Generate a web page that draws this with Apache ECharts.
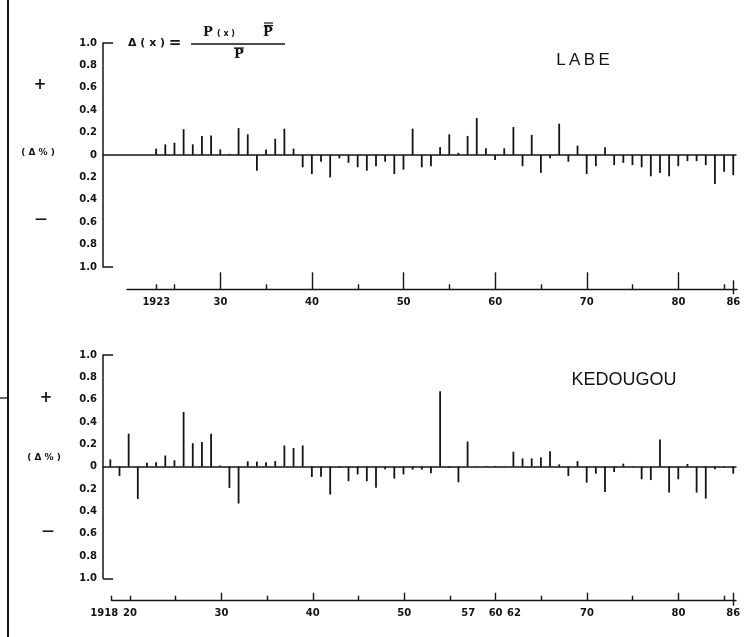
<!DOCTYPE html>
<html><head><meta charset="utf-8">
<script src="https://cdn.jsdelivr.net/npm/echarts@6/dist/echarts.min.js"></script>
<style>html,body{margin:0;padding:0;background:#fff}#c{width:746px;height:637px}</style>
</head><body><div id="c"></div>
<script>
// ---- LABE (top panel) ----
const labeYears = [1923,1924,1925,1926,1927,1928,1929,1930,1931,1932,1933,1934,1935,1936,1937,1938,1939,
  1940,1941,1942,1943,1944,1945,1946,1947,1948,1949,1950,1951,1952,1953,1954,1955,1956,1957,1958,1959,
  1960,1961,1962,1963,1964,1965,1966,1967,1968,1969,1970,1971,1972,1973,1974,1975,1976,1977,1978,1979,
  1980,1981,1982,1983,1984,1985,1986];
const labeValues = [0.057,0.095,0.11,0.23,0.095,0.17,0.175,0.05,0.01,0.24,0.185,-0.14,0.05,0.145,0.235,0.057,-0.11,
  -0.17,-0.06,-0.20,-0.03,-0.07,-0.11,-0.14,-0.10,-0.06,-0.17,-0.13,0.235,-0.11,-0.10,0.07,0.185,0.02,0.17,0.33,0.06,
  -0.045,0.06,0.25,-0.10,0.18,-0.16,-0.03,0.28,-0.06,0.083,-0.17,-0.10,0.07,-0.09,-0.07,-0.09,-0.11,-0.19,-0.16,-0.19,
  -0.10,-0.055,-0.055,-0.09,-0.26,-0.15,-0.18];
const labeLongTicks = [1930,1940,1950,1960,1970,1980];
const labeShortTicks = [1923,1925,1935,1945,1955,1965,1975,1985];
const labeCrossTicks = [1986];
const labeTickLabels = [1923,1930,1940,1950,1960,1970,1980,1986];

// ---- KEDOUGOU (bottom panel) ----
const kedYears = [1918,1919,1920,1921,1922,1923,1924,1925,1926,1927,1928,1929,1930,1931,1932,1933,1934,1935,1936,
  1937,1938,1939,1940,1941,1942,1943,1944,1945,1946,1947,1948,1949,1950,1951,1952,1953,1954,1955,1956,1957,1958,
  1959,1960,1961,1962,1963,1964,1965,1966,1967,1968,1969,1970,1971,1972,1973,1974,1975,1976,1977,1978,1979,1980,
  1981,1982,1983,1984,1985,1986];
const kedValues = [0.065,-0.083,0.295,-0.29,0.036,0.04,0.10,0.057,0.49,0.21,0.22,0.295,0.01,-0.19,-0.33,0.048,0.045,0.04,0.05,
  0.19,0.167,0.19,-0.092,-0.09,-0.25,-0.01,-0.13,-0.07,-0.13,-0.19,-0.025,-0.107,-0.07,-0.027,-0.027,-0.06,0.675,-0.01,-0.14,0.225,0.005,
  0.005,0.005,0.005,0.134,0.074,0.074,0.083,0.137,0.02,-0.083,0.05,-0.143,-0.063,-0.226,-0.048,0.027,0.005,-0.113,-0.12,0.244,-0.232,-0.113,
  0.024,-0.232,-0.286,-0.024,-0.01,-0.063];
const kedLongTicks = [1930,1940,1950,1960,1970,1980];
const kedShortTicks = [1918,1920,1925,1935,1945,1955,1965,1975,1985];
const kedCrossTicks = [1986];
const kedTickLabels = [1918,1920,1930,1940,1950,1957,1960,1962,1970,1980,1986];

const INK = '#141414';
const labelFont = {fontFamily:'DejaVu Sans', fontWeight:'bold', fontSize:10, color:INK};
const yLabelFmt = v => Math.abs(v) < 1e-9 ? '0' : Math.abs(v).toFixed(1);
const xLabelFmt = v => v === 1918 ? '{first|1918}' : (v === 1923 ? '1923' : String(v).slice(2));

function barXAxis(grid){
  return {gridIndex:grid, type:'value', min:1917.2, max:1986.3,
    axisLine:{show:true, onZero:true, lineStyle:{color:INK, width:1.5}},
    axisTick:{show:false}, axisLabel:{show:false}, splitLine:{show:false}};
}
function yearAxes(grid, min, max, longT, longLen, shortT, crossT, crossUp, labels){
  const base = {gridIndex:grid, type:'value', min:min, max:max, position:'bottom', splitLine:{show:false}};
  return [
    Object.assign({}, base, {axisLine:{show:true, onZero:false, lineStyle:{color:INK, width:1.4}},
      axisTick:{show:true, customValues:longT, inside:true, length:longLen, lineStyle:{color:INK, width:1.4}},
      axisLabel:Object.assign({show:true, customValues:labels, formatter:xLabelFmt, margin:8,
        hideOverlap:false, showMinLabel:true, showMaxLabel:true,
        rich:{first:{fontFamily:'DejaVu Sans', fontWeight:'bold', fontSize:10, color:INK, padding:[0,15,0,0]}}}, labelFont)}),
    Object.assign({}, base, {axisLine:{show:false, onZero:false},
      axisTick:{show:true, customValues:shortT, inside:true, length:5, lineStyle:{color:INK, width:1.4}},
      axisLabel:{show:false}}),
    Object.assign({}, base, {axisLine:{show:false, onZero:false},
      axisTick:{show:true, customValues:crossT, inside:true, length:crossUp, lineStyle:{color:INK, width:1.4}},
      axisLabel:{show:false}}),
    Object.assign({}, base, {axisLine:{show:false, onZero:false},
      axisTick:{show:true, customValues:crossT, inside:false, length:5, lineStyle:{color:INK, width:1.4}},
      axisLabel:{show:false}})
  ];
}
function valueYAxis(grid){
  return {gridIndex:grid, type:'value', min:-1, max:1, interval:0.2,
    axisLine:{show:true, lineStyle:{color:INK, width:1.5}},
    axisTick:{show:true, customValues:[-1,1], inside:true, length:10, lineStyle:{color:INK, width:1.5}},
    axisLabel:Object.assign({formatter:yLabelFmt, margin:6}, labelFont),
    splitLine:{show:false}};
}
const hiddenY = g => ({gridIndex:g, type:'value', show:false, min:0, max:1});

const xAxes = [barXAxis(0)]
  .concat(yearAxes(1, 1919.8, 1986.4, labeLongTicks, 17, labeShortTicks, labeCrossTicks, 9, labeTickLabels))
  .concat([barXAxis(2)])
  .concat(yearAxes(3, 1918, 1986.3, kedLongTicks, 8, kedShortTicks, kedCrossTicks, 8, kedTickLabels));

const txt = (x, y, text, font, align) => ({type:'text', x:x, y:y, silent:true,
  style:{text:text, font:font, fill:INK, textAlign:align || 'center', textVerticalAlign:'middle'}});
const ln = (x1, y1, x2, y2, w) => ({type:'line', silent:true, shape:{x1:x1, y1:y1, x2:x2, y2:y2},
  style:{stroke:INK, lineWidth:w || 1.3}});

const chart = echarts.init(document.getElementById('c'), null, {renderer:'canvas'});
chart.setOption({
  animation:false,
  backgroundColor:'#fff',
  grid:[
    {left:103, right:10, top:43, height:224},
    {left:127, right:9, top:250, height:39.3},
    {left:103, right:10, top:355, height:223.3},
    {left:111.7, right:10, top:560, height:40.7}
  ],
  xAxis: xAxes,
  yAxis:[valueYAxis(0), hiddenY(1), valueYAxis(2), hiddenY(3)],
  series:[
    {type:'bar', xAxisIndex:0, yAxisIndex:0, barWidth:1.8, itemStyle:{color:INK},
      data: labeYears.map((y, i) => [y, labeValues[i]])},
    {type:'bar', xAxisIndex:5, yAxisIndex:2, barWidth:1.8, itemStyle:{color:INK},
      data: kedYears.map((y, i) => [y, kedValues[i]])}
  ],
  graphic:[
    ln(8, 0, 8, 637, 2),
    ln(0, 398, 8, 398, 1.3),
    // side annotations, top
    txt(40, 85, '+', 'bold 15px "DejaVu Sans"'),
    txt(38, 153, '( Δ % )', 'bold 9px "DejaVu Sans"'),
    txt(41, 220, '—', 'bold 12px "DejaVu Sans"'),
    // side annotations, bottom
    txt(46, 398, '+', 'bold 15px "DejaVu Sans"'),
    txt(44, 458, '( Δ % )', 'bold 9px "DejaVu Sans"'),
    txt(48, 532, '—', 'bold 12px "DejaVu Sans"'),
    // formula
    txt(128, 43, 'Δ ( x )', 'bold 11px "DejaVu Sans"', 'left'),
    txt(175, 43, '=', 'bold 15px "DejaVu Sans"'),
    ln(191, 44, 285, 44, 1.3),
    txt(208, 33, 'P', 'bold 13px "DejaVu Serif"'),
    txt(226, 34, '( x )', 'bold 8px "DejaVu Sans"'),
    txt(268, 33, 'P', 'bold 13px "DejaVu Serif"'),
    ln(264, 23, 273, 23, 1.2), ln(264, 25.5, 273, 25.5, 1.2),
    txt(239, 55, 'P', 'bold 13px "DejaVu Serif"'),
    ln(234, 48, 244, 48, 1.2),
    // station names
    txt(583, 60, 'L\u2009A\u2009B\u2009E', '17px "Liberation Sans"'),
    txt(624, 380, 'KEDOUGOU', '18px "Liberation Sans"')
  ]
});
</script>
</body></html>
